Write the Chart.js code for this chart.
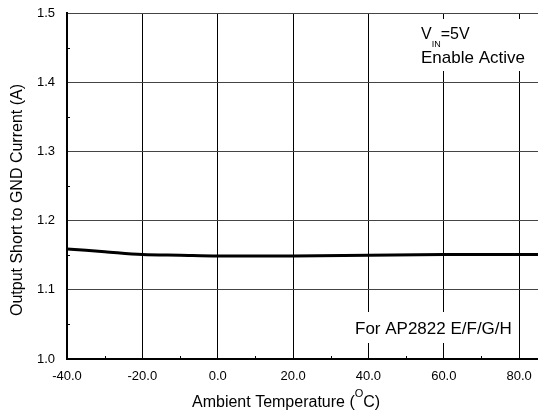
<!DOCTYPE html>
<html>
<head>
<meta charset="utf-8">
<script src="https://cdn.jsdelivr.net/npm/chart.js@4"></script>
<style>
  html, body { margin: 0; padding: 0; background: #fff; }
  #wrap { width: 538px; height: 414px; }
</style>
</head>
<body>
<div id="wrap"><canvas id="grafico" width="538" height="414"></canvas></div>
<script>
// temperatura (°C) e corrente de curto (A)
const temperaturas = [-40, -30, -20, -10, 0, 20, 40, 60, 85];
const corrente = [1.159, 1.155, 1.151, 1.150, 1.149, 1.149, 1.150, 1.151, 1.151];

const xMin = -40, xMax = 85, xPasso = 20;
const yMin = 1.0, yMax = 1.5, yPasso = 0.1;

const tituloX = ["Ambient Temperature (", "O", "C)"];
const tituloY = "Output Short to GND Current (A)";
const notaVin = ["V", "IN", "=5V"];
const notaEnable = "Enable Active";
const notaModelo = "For AP2822 E/F/G/H";

const FONTE = "'Liberation Sans', Arial, sans-serif";

// marcas menores, notas e títulos dos eixos
const extras = {
    id: "extras",
    afterDraw(chart) {
        const ctx = chart.ctx;
        const x = chart.scales.x, y = chart.scales.y;
        const area = chart.chartArea;
        ctx.save();

        // marcas menores para dentro
        ctx.strokeStyle = "#000";
        ctx.lineWidth = 1;
        ctx.beginPath();
        for (let v = xMin + xPasso / 2; v < xMax; v += xPasso) {
            const px = Math.round(x.getPixelForValue(v)) + 0.5;
            ctx.moveTo(px, area.bottom);
            ctx.lineTo(px, area.bottom - 3);
        }
        for (let v = yMin + yPasso / 2; v < yMax; v += yPasso) {
            const py = Math.round(y.getPixelForValue(v)) + 0.5;
            ctx.moveTo(area.left, py);
            ctx.lineTo(area.left + 3, py);
        }
        ctx.stroke();

        // nota superior
        ctx.fillStyle = "#fff";
        ctx.fillRect(414, 19, 116, 52);
        ctx.fillStyle = "#000";
        ctx.textBaseline = "alphabetic";
        ctx.textAlign = "left";
        ctx.font = "16px " + FONTE;
        ctx.fillText(notaVin[0], 421, 39);
        let px = 421 + ctx.measureText(notaVin[0]).width;
        ctx.font = "9px " + FONTE;
        ctx.fillText(notaVin[1], px, 47);
        px += ctx.measureText(notaVin[1]).width;
        ctx.font = "16px " + FONTE;
        ctx.fillText(notaVin[2], px, 39);
        ctx.font = "17px " + FONTE;
        ctx.fillText(notaEnable, 421, 63);

        // nota inferior
        ctx.fillStyle = "#fff";
        ctx.fillRect(349, 312, 168, 31);
        ctx.fillStyle = "#000";
        ctx.fillText(notaModelo, 355, 334);

        // título X com sobrescrito
        ctx.font = "16px " + FONTE;
        let tx = 192;
        ctx.fillText(tituloX[0], tx, 407);
        tx += ctx.measureText(tituloX[0]).width;
        ctx.font = "11px " + FONTE;
        ctx.fillText(tituloX[1], tx, 397);
        tx += ctx.measureText(tituloX[1]).width;
        ctx.font = "16px " + FONTE;
        ctx.fillText(tituloX[2], tx, 407);

        // título Y
        ctx.translate(22, 200);
        ctx.rotate(-Math.PI / 2);
        ctx.textAlign = "center";
        ctx.fillText(tituloY, 0, 0);
        ctx.restore();
    }
};

const ctx = document.getElementById("grafico").getContext("2d");
new Chart(ctx, {
    type: "line",
    data: {
        datasets: [{
            data: temperaturas.map((t, i) => ({ x: t, y: corrente[i] })),
            borderColor: "#000",
            borderWidth: 3,
            pointRadius: 0,
            cubicInterpolationMode: "monotone",
            fill: false
        }]
    },
    options: {
        responsive: false,
        animation: false,
        layout: { padding: { top: 13, right: 0, left: 0, bottom: 0 } },
        plugins: {
            legend: { display: false },
            tooltip: { enabled: false }
        },
        scales: {
            x: {
                type: "linear",
                min: xMin,
                max: xMax,
                afterFit(s) {
                    s.height = 55;
                    s.paddingLeft = 0;
                    s.paddingRight = 0;
                },
                afterBuildTicks(s) {
                    s.ticks = [];
                    for (let v = xMin; v <= 80; v += xPasso) s.ticks.push({ value: v });
                },
                ticks: {
                    color: "#000",
                    padding: 10,
                    maxRotation: 0,
                    font: { family: FONTE, size: 13 },
                    callback: v => Number(v).toFixed(1)
                },
                grid: { color: "#000", lineWidth: 1, drawTicks: false },
                border: { color: "#000", width: 2 }
            },
            y: {
                min: yMin,
                max: yMax,
                afterFit(s) {
                    s.width = 67;
                    s.paddingTop = 0;
                    s.paddingBottom = 0;
                },
                ticks: {
                    stepSize: yPasso,
                    color: "#000",
                    padding: 12,
                    font: { family: FONTE, size: 13 },
                    callback: v => Number(v).toFixed(1)
                },
                grid: { color: "#444", lineWidth: 1, drawTicks: false },
                border: { color: "#000", width: 2 }
            }
        }
    },
    plugins: [extras]
});
</script>
</body>
</html>
